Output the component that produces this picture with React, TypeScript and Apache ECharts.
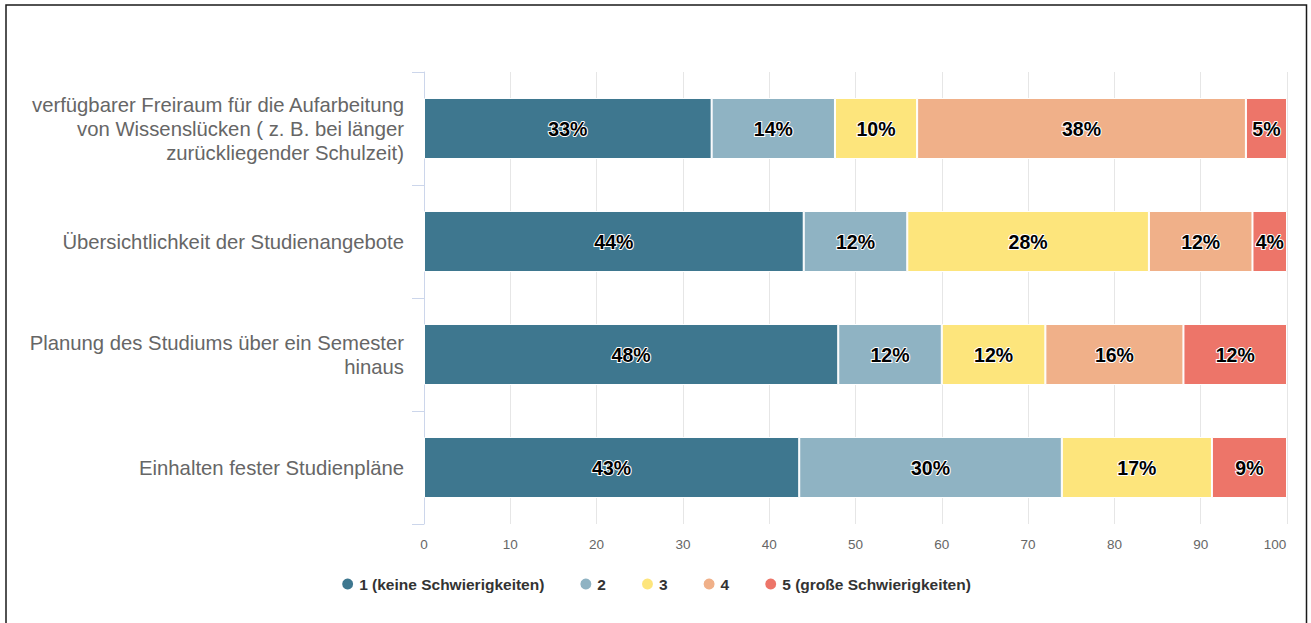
import React, { useEffect, useRef } from "react";
import * as echarts from "echarts";

const categories = [
  "verfügbarer Freiraum für die Aufarbeitung\nvon Wissenslücken ( z. B. bei länger\nzurückliegender Schulzeit)",
  "Übersichtlichkeit der Studienangebote",
  "Planung des Studiums über ein Semester\nhinaus",
  "Einhalten fester Studienpläne",
];

const seriesNames = [
  "1 (keine Schwierigkeiten)",
  "2",
  "3",
  "4",
  "5 (große Schwierigkeiten)",
];

const s1 = [33.33, 44, 48, 43.48];
const s2 = [14.29, 12, 12, 30.43];
const s3 = [9.52, 28, 12, 17.39];
const s4 = [38.1, 12, 16, 0];
const s5 = [4.76, 4, 12, 8.7];

const seriesValues = [s1, s2, s3, s4, s5];
const colors = ["#3e778f", "#8fb3c3", "#fde57c", "#f0b089", "#ed7569"];

const xTicks = { min: 0, max: 100, interval: 10 };

export default function App() {
  const ref = useRef<HTMLDivElement>(null);
  useEffect(() => {
    if (!ref.current) return;
    const chart = echarts.init(ref.current, undefined, { renderer: "svg" });
    const font = "'Liberation Sans', Arial, Helvetica, sans-serif";
    chart.setOption({
      animation: false,
      textStyle: { fontFamily: font },
      color: colors,
      graphic: [
        {
          type: "rect",
          shape: { x: 6, y: 5, width: 1300.5, height: 700 },
          style: { fill: "none", stroke: "#1a1a1a", lineWidth: 1.5 },
          silent: true,
        },
      ],
      grid: { left: 424, right: 24, top: 72, bottom: 99 },
      legend: {
        bottom: 26,
        left: "center",
        icon: "circle",
        itemWidth: 13,
        itemHeight: 13,
        itemGap: 34,
        textStyle: {
          fontFamily: font,
          fontSize: 15.5,
          fontWeight: "bold",
          color: "#333333",
        },
        data: seriesNames,
      },
      xAxis: {
        type: "value",
        min: xTicks.min,
        max: xTicks.max,
        interval: xTicks.interval,
        axisLine: { show: false },
        axisTick: { show: false },
        splitLine: { show: true, lineStyle: { color: "#e6e6e6", width: 1 } },
        axisLabel: {
          color: "#666666",
          fontSize: 13.5,
          margin: 13,
          fontFamily: font,
          formatter: (v: number) => (v === xTicks.max ? "{last|" + v + "}" : String(v)),
          rich: {
            last: { color: "#666666", fontSize: 13.5, fontFamily: font, padding: [0, 24, 0, 0] },
          },
        },
      },
      yAxis: {
        type: "category",
        inverse: true,
        data: categories,
        axisLine: { show: true, lineStyle: { color: "#ccd6eb", width: 1 } },
        axisTick: { show: true, length: 12, lineStyle: { color: "#ccd6eb" } },
        axisLabel: {
          color: "#666666",
          fontSize: 20.3,
          lineHeight: 24,
          margin: 20,
          align: "right",
          fontFamily: font,
        },
      },
      series: seriesNames.map((name, i) => ({
        name,
        type: "bar",
        stack: "total",
        barWidth: "54%",
        data: seriesValues[i],
        itemStyle: { borderColor: "#ffffff", borderWidth: 1 },
        label: {
          show: true,
          position: "inside",
          formatter: (p: any) => (p.value > 0 ? Math.round(p.value) + "%" : ""),
          fontSize: 19.5,
          fontWeight: "bold",
          color: "#000000",
          textBorderColor: "#ffffff",
          textBorderWidth: 2,
          fontFamily: font,
        },
      })),
    });
    return () => chart.dispose();
  }, []);
  return (
    <div
      ref={ref}
      style={{ position: "absolute", left: 0, top: 0, width: 1311, height: 623, background: "#ffffff" }}
    />
  );
}
